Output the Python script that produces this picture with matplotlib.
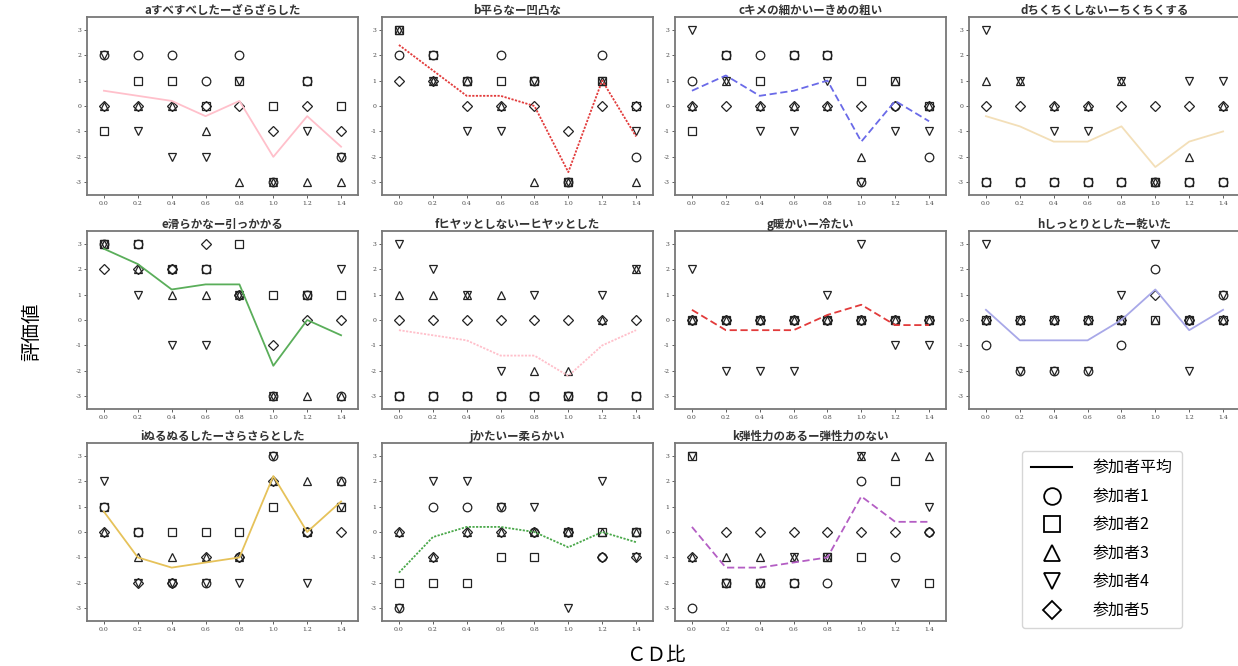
import matplotlib
matplotlib.use("Agg")
import matplotlib.pyplot as plt
from matplotlib.lines import Line2D
import numpy as np

plt.rcParams['font.family'] = ['Noto Sans CJK JP', 'DejaVu Sans']

cd_ratio = [0.0, 0.2, 0.4, 0.6, 0.8, 1.0, 1.2, 1.4]
yticks = [-3, -2, -1, 0, 1, 2, 3]

titles = ["aすべすべしたーざらざらした", "b平らなー凹凸な", "cキメの細かいーきめの粗い",
          "dちくちくしないーちくちくする", "e滑らかなー引っかかる", "fヒヤッとしないーヒヤッとした",
          "g暖かいー冷たい", "hしっとりとしたー乾いた", "iぬるぬるしたーさらさらとした",
          "jかたいー柔らかい", "k弾性力のあるー弾性力のない"]

participant_labels = ["参加者1", "参加者2", "参加者3", "参加者4", "参加者5"]
mean_label = "参加者平均"

# scores[participant][cd_ratio index]
scores_a = [[2, 2, 2, 1, 2, -3, 1, -2],
            [-1, 1, 1, 0, 1, 0, 1, 0],
            [0, 0, 0, -1, -3, -3, -3, -3],
            [2, -1, -2, -2, 1, -3, -1, -2],
            [0, 0, 0, 0, 0, -1, 0, -1]]
scores_b = [[2, 2, 1, 2, 1, -3, 2, -2],
            [3, 2, 1, 1, 1, -3, 1, 0],
            [3, 1, 1, 0, -3, -3, 1, -3],
            [3, 1, -1, -1, 1, -3, 1, -1],
            [1, 1, 0, 0, 0, -1, 0, 0]]
scores_c = [[1, 2, 2, 2, 2, -3, 0, -2],
            [-1, 2, 1, 2, 2, 1, 1, 0],
            [0, 1, 0, 0, 0, -2, 1, 0],
            [3, 1, -1, -1, 1, -3, -1, -1],
            [0, 0, 0, 0, 0, 0, 0, 0]]
scores_d = [[-3, -3, -3, -3, -3, -3, -3, -3],
            [-3, -3, -3, -3, -3, -3, -3, -3],
            [1, 1, 0, 0, 1, -3, -2, 0],
            [3, 1, -1, -1, 1, -3, 1, 1],
            [0, 0, 0, 0, 0, 0, 0, 0]]
scores_e = [[3, 3, 2, 2, 1, -3, 1, -3],
            [3, 3, 2, 2, 3, 1, 1, 1],
            [3, 2, 1, 1, 1, -3, -3, -3],
            [3, 1, -1, -1, 1, -3, 1, 2],
            [2, 2, 2, 3, 1, -1, 0, 0]]
scores_f = [[-3, -3, -3, -3, -3, -3, -3, -3],
            [-3, -3, -3, -3, -3, -3, -3, -3],
            [1, 1, 1, 1, -2, -2, 0, 2],
            [3, 2, 1, -2, 1, -3, 1, 2],
            [0, 0, 0, 0, 0, 0, 0, 0]]
scores_g = [[0, 0, 0, 0, 0, 0, 0, 0],
            [0, 0, 0, 0, 0, 0, 0, 0],
            [0, 0, 0, 0, 0, 0, 0, 0],
            [2, -2, -2, -2, 1, 3, -1, -1],
            [0, 0, 0, 0, 0, 0, 0, 0]]
scores_h = [[-1, -2, -2, -2, -1, 2, 0, 1],
            [0, 0, 0, 0, 0, 0, 0, 0],
            [0, 0, 0, 0, 0, 0, 0, 0],
            [3, -2, -2, -2, 1, 3, -2, 1],
            [0, 0, 0, 0, 0, 1, 0, 0]]
scores_i = [[1, 0, -2, -2, -1, 3, 0, 2],
            [1, 0, 0, 0, 0, 1, 0, 1],
            [0, -1, -1, -1, -1, 2, 2, 2],
            [2, -2, -2, -2, -2, 3, -2, 1],
            [0, -2, -2, -1, -1, 2, 0, 0]]
scores_j = [[-3, 1, 1, 1, 0, 0, -1, 0],
            [-2, -2, -2, -1, -1, 0, 0, 0],
            [0, -1, 0, 0, 0, 0, 0, 0],
            [-3, 2, 2, 1, 1, -3, 2, -1],
            [0, -1, 0, 0, 0, 0, -1, -1]]
scores_k = [[-3, -2, -2, -2, -2, 2, -1, 0],
            [3, -2, -2, -2, -1, -1, 2, -2],
            [-1, -1, -1, -1, -1, 3, 3, 3],
            [3, -2, -2, -1, -1, 3, -2, 1],
            [-1, 0, 0, 0, 0, 0, 0, 0]]

all_scores = [scores_a, scores_b, scores_c, scores_d, scores_e, scores_f,
              scores_g, scores_h, scores_i, scores_j, scores_k]

# styles
line_colors = ['#ffc0cb', '#e23b3b', '#6a6ae8', '#f3dfb8', '#5aae5a', '#ffc0cb',
               '#e23b3b', '#a8a8e8', '#e6c25a', '#4aa84a', '#b45ec4']
line_styles = ['-', (0, (1.2, 0.8)), (0, (4, 2)), '-', '-', (0, (1.2, 0.8)),
               (0, (4, 2)), '-', '-', (0, (1.2, 0.8)), (0, (4, 2))]
markers = ['o', 's', '^', 'v', 'D']
msizes = [6.2, 6.0, 6.2, 6.2, 4.6]

W, H = 1238, 666
fig = plt.figure(figsize=(W / 100, H / 100), dpi=100)

col_left = [87, 382, 675, 969]
row_top = [17, 231, 443]
aw = 271
ah = 178

for idx, sc in enumerate(all_scores):
    r, c = divmod(idx, 4)
    l, t = col_left[c], row_top[r]
    ax = fig.add_axes([l / W, 1 - (t + ah) / H, aw / W, ah / H])
    for p in range(5):
        ax.plot(cd_ratio, sc[p], linestyle='none', marker=markers[p], ms=msizes[p],
                mfc='none', mec='#222222', mew=0.9)
    mean = np.mean(np.array(sc, dtype=float), axis=0)
    ax.plot(cd_ratio, mean, color=line_colors[idx], linestyle=line_styles[idx], lw=1.3)
    ax.set_xlim(-0.1, 1.5)
    ax.set_ylim(-3.5, 3.5)
    ax.set_xticks(cd_ratio)
    ax.set_xticklabels([f"{v:.1f}" for v in cd_ratio], family='DejaVu Serif', fontsize=4.4)
    ax.set_yticks(yticks)
    ax.set_yticklabels([str(v) for v in yticks], family='DejaVu Serif', fontsize=4.4)
    ax.tick_params(direction='out', length=2, width=0.6, pad=2, colors='#444444')
    for s in ax.spines.values():
        s.set_color('#777777')
        s.set_linewidth(1.3)
    ax.set_title(titles[idx], fontsize=8.3, color='#333333', pad=2.5, fontweight='semibold')

handles = [Line2D([], [], color='black', lw=1.5)]
for p in range(5):
    handles.append(Line2D([], [], linestyle='none', marker=markers[p],
                          ms=12 if markers[p] != 'D' else 9.5, mfc='none', mec='black', mew=1.3))
fig.legend(handles, [mean_label] + participant_labels, loc='upper left',
           bbox_to_anchor=(1014 / W, 1 - 443 / H), fontsize=11.5, frameon=True,
           edgecolor='#cccccc', fancybox=True, labelspacing=0.72, handlelength=2.6,
           handletextpad=1.3, borderpad=0.55, markerscale=1.0)

fig.text(32 / W, 1 - 332 / H, "評価値", rotation=90, fontsize=14, ha='center', va='center')
fig.text(656 / W, 1 - 655 / H, "ＣＤ比", fontsize=14, ha='center', va='center')

fig.savefig("out.png", dpi=100)
